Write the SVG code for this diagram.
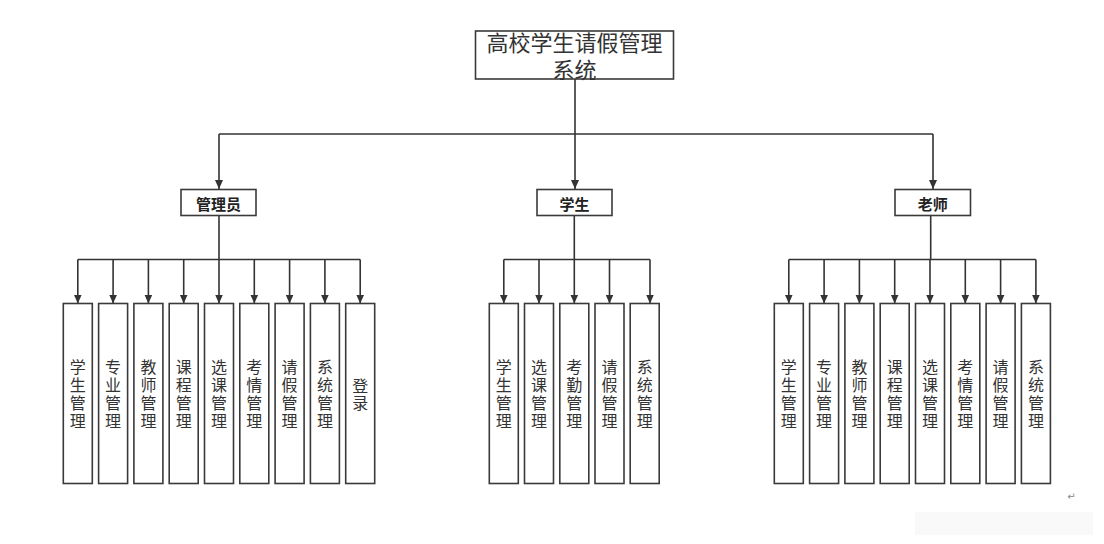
<svg xmlns="http://www.w3.org/2000/svg" width="1104" height="544" viewBox="0 0 1104 544">
<style>
.box{fill:#fff;stroke:#3a3a3a;stroke-width:1.6}
.ln{fill:none;stroke:#333;stroke-width:1.6}
.t{font-family:"Noto Sans CJK SC","Noto Sans",sans-serif;fill:#333;text-anchor:middle}
.title{font-size:22px}
.hd{font-size:15px;font-weight:bold;fill:#222}
.lb{font-size:16px;writing-mode:vertical-rl;letter-spacing:1.7px}
</style>
<defs>
<marker id="ar" markerUnits="userSpaceOnUse" markerWidth="10" markerHeight="10" viewBox="0 0 10 10" refX="9" refY="5" orient="auto">
<path d="M0,1 L9,5 L0,9 Z" fill="#333"/>
</marker>
</defs>
<rect x="915" y="512" width="178" height="23" fill="#f9f9f9"/>
<g id="connectors">
<path class="ln" d="M575,79 V134"/>
<path class="ln" d="M219,134 H933"/>
<path class="ln" d="M219,134 V189" marker-end="url(#ar)"/>
<path class="ln" d="M575,134 V189" marker-end="url(#ar)"/>
<path class="ln" d="M933,134 V189" marker-end="url(#ar)"/>
<path class="ln" d="M219,215 V259.5 M77.8,259.5 H360.2"/>
<g marker-end="url(#ar)">
<path class="ln" d="M77.8,259.5 V303.5"/><path class="ln" d="M113.1,259.5 V303.5"/><path class="ln" d="M148.4,259.5 V303.5"/><path class="ln" d="M183.7,259.5 V303.5"/><path class="ln" d="M219,259.5 V303.5"/><path class="ln" d="M254.3,259.5 V303.5"/><path class="ln" d="M289.6,259.5 V303.5"/><path class="ln" d="M324.9,259.5 V303.5"/><path class="ln" d="M360.2,259.5 V303.5"/>
</g>
<path class="ln" d="M574.3,215 V259.5 M503.8,259.5 H650"/>
<g marker-end="url(#ar)">
<path class="ln" d="M503.8,259.5 V303.5"/><path class="ln" d="M539,259.5 V303.5"/><path class="ln" d="M574.3,259.5 V303.5"/><path class="ln" d="M609.5,259.5 V303.5"/><path class="ln" d="M650,259.5 V303.5"/>
</g>
<path class="ln" d="M930.7,215 V259.5 M788.8,259.5 H1035.9"/>
<g marker-end="url(#ar)">
<path class="ln" d="M788.8,259.5 V303.5"/><path class="ln" d="M824.1,259.5 V303.5"/><path class="ln" d="M859.4,259.5 V303.5"/><path class="ln" d="M894.7,259.5 V303.5"/><path class="ln" d="M930,259.5 V303.5"/><path class="ln" d="M965.3,259.5 V303.5"/><path class="ln" d="M1000.6,259.5 V303.5"/><path class="ln" d="M1035.9,259.5 V303.5"/>
</g>
</g>
<g id="root"><rect class="box" x="475.5" y="31" width="198" height="48"/>
<text class="t title"><tspan x="574.5" y="50.5">高校学生请假管理</tspan><tspan x="574.5" y="78">系统</tspan></text></g>
<g id="admin"><rect class="box" x="181" y="189.5" width="75" height="26"/><text class="t hd" x="218.5" y="209.5">管理员</text></g>
<g id="student"><rect class="box" x="537" y="189.5" width="75" height="26"/><text class="t hd" x="574.5" y="209.5">学生</text></g>
<g id="teacher"><rect class="box" x="895" y="189.5" width="75.5" height="26"/><text class="t hd" x="932.7" y="209.5">老师</text></g>

<g id="a1"><rect class="box" x="63.3" y="303.5" width="29" height="180"/><text class="t lb" x="77.8" y="394.8">学生管理</text></g>
<g id="a2"><rect class="box" x="98.6" y="303.5" width="29" height="180"/><text class="t lb" x="113.1" y="394.8">专业管理</text></g>
<g id="a3"><rect class="box" x="133.9" y="303.5" width="29" height="180"/><text class="t lb" x="148.4" y="394.8">教师管理</text></g>
<g id="a4"><rect class="box" x="169.2" y="303.5" width="29" height="180"/><text class="t lb" x="183.7" y="394.8">课程管理</text></g>
<g id="a5"><rect class="box" x="204.5" y="303.5" width="29" height="180"/><text class="t lb" x="219" y="394.8">选课管理</text></g>
<g id="a6"><rect class="box" x="239.8" y="303.5" width="29" height="180"/><text class="t lb" x="254.3" y="394.8">考情管理</text></g>
<g id="a7"><rect class="box" x="275.1" y="303.5" width="29" height="180"/><text class="t lb" x="289.6" y="394.8">请假管理</text></g>
<g id="a8"><rect class="box" x="310.4" y="303.5" width="29" height="180"/><text class="t lb" x="324.9" y="394.8">系统管理</text></g>
<g id="a9"><rect class="box" x="345.7" y="303.5" width="29" height="180"/><text class="t lb" x="360.2" y="395.3">登录</text></g>

<g id="s1"><rect class="box" x="489.3" y="303.5" width="29" height="180"/><text class="t lb" x="503.8" y="394.8">学生管理</text></g>
<g id="s2"><rect class="box" x="524.5" y="303.5" width="29" height="180"/><text class="t lb" x="539" y="394.8">选课管理</text></g>
<g id="s3"><rect class="box" x="559.8" y="303.5" width="29" height="180"/><text class="t lb" x="574.3" y="394.8">考勤管理</text></g>
<g id="s4"><rect class="box" x="595" y="303.5" width="29" height="180"/><text class="t lb" x="609.5" y="394.8">请假管理</text></g>
<g id="s5"><rect class="box" x="630.2" y="303.5" width="29" height="180"/><text class="t lb" x="644.7" y="394.8">系统管理</text></g>

<g id="t1"><rect class="box" x="774.3" y="303.5" width="29" height="180"/><text class="t lb" x="788.8" y="394.8">学生管理</text></g>
<g id="t2"><rect class="box" x="809.6" y="303.5" width="29" height="180"/><text class="t lb" x="824.1" y="394.8">专业管理</text></g>
<g id="t3"><rect class="box" x="844.9" y="303.5" width="29" height="180"/><text class="t lb" x="859.4" y="394.8">教师管理</text></g>
<g id="t4"><rect class="box" x="880.2" y="303.5" width="29" height="180"/><text class="t lb" x="894.7" y="394.8">课程管理</text></g>
<g id="t5"><rect class="box" x="915.5" y="303.5" width="29" height="180"/><text class="t lb" x="930" y="394.8">选课管理</text></g>
<g id="t6"><rect class="box" x="950.8" y="303.5" width="29" height="180"/><text class="t lb" x="965.3" y="394.8">考情管理</text></g>
<g id="t7"><rect class="box" x="986.1" y="303.5" width="29" height="180"/><text class="t lb" x="1000.6" y="394.8">请假管理</text></g>
<g id="t8"><rect class="box" x="1021.4" y="303.5" width="29" height="180"/><text class="t lb" x="1035.9" y="394.8">系统管理</text></g>

<text x="1071.5" y="500" font-family="DejaVu Sans, sans-serif" font-size="10" fill="#888" text-anchor="middle">↵</text>
</svg>
